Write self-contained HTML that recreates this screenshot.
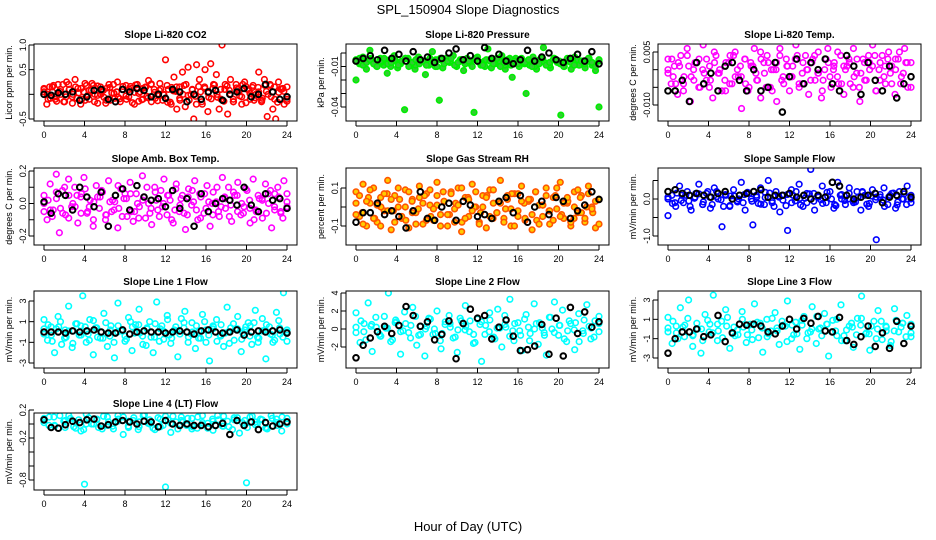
<!DOCTYPE html>
<html><head><meta charset="utf-8"><style>
body{margin:0;background:#fff;}
svg{display:block;font-family:"Liberation Sans",sans-serif;}
</style></head><body>
<svg id="c" width="936" height="540" viewBox="0 0 936 540">
<text x="468" y="14" text-anchor="middle" font-size="13">SPL_150904  Slope Diagnostics</text>
<text x="468" y="531" text-anchor="middle" font-size="13">Hour of Day (UTC)</text>
</svg>
<script>
const xTicks=[0,4,8,12,16,20,24];
// CO2
const co2Cloud=[0.1,-0.2,0.15,0.05,-0.1,0.2,0,-0.15,0.25,0.1,-0.05,0.3,0.12,-0.2,0.05,0.18,-0.1,0.22,0,-0.18,0.15,0.08,-0.12,0.2,0.03,-0.08,0.25,-0.15,0.1,0.18,-0.05,0.12,-0.2,0.2,0.05,-0.1,0.15,0.28,-0.15,0.1,0,0.22,-0.12,0.7,0.1,-0.2,0.35,-0.3,0.15,0.45,-0.25,0.55,0,-0.5,0.6,0.3,-0.2,0.5,-0.35,0.62,0.2,0.4,-0.3,1.0,0.1,-0.4,0.3,-0.15,0.2,0.05,-0.2,0.25,0.1,-0.1,0.18,0,0.45,-0.15,0.3,-0.45,0.2,-0.3,-0.5,0.25,0.1,-0.2,0.15];
const co2Core=[0.05,-0.1,0.15,-0.05,0.1,-0.15,0.2,0,-0.08,0.12,-0.12,0.08,0.18,-0.02,0.06,-0.18,0.14,0.02,-0.06,0.1,-0.1,0.16,0.04,-0.14,0.12,-0.04,0.2,-0.08,0.08,0,-0.16,0.14,0.06,-0.12,0.18,-0.02,0.1,-0.2,0.05,0.15,-0.06,0.12,0,-0.1,0.2,0.08,-0.15,0.1,-0.05,0.16,0.02,-0.12,0.14,-0.08,0.06,0.18,-0.1,0.04,0.12,-0.14];
const co2Dense=[0.12,0.0,-0.08,0.18,-0.14,0.06,0.2,-0.05,0.1,-0.18,0.15,0.03,-0.1,0.22,-0.02,0.08,-0.15,0.17,0.0,-0.06,0.13,-0.12,0.2,0.05,-0.09,0.16,-0.03,0.1,-0.17,0.19,0.02,-0.11,0.14,-0.07,0.21,0.04,-0.13,0.11,-0.01,0.18,-0.16,0.07,0.15,-0.08,0.0,0.2,-0.12,0.09,-0.04,0.16,-0.15,0.12,0.03,-0.09,0.19,-0.06,0.1,-0.14,0.17,0.01,-0.1,0.13,-0.03,0.2,-0.17,0.08,0.14,-0.07,0.05,-0.12,0.18,0.0,-0.05,0.15,-0.16,0.11,0.06,-0.1];
const co2Black=[0,-0.02,0.03,0,0.05,-0.12,-0.05,0.08,0.1,-0.1,-0.15,0.1,0.05,0.12,0.08,-0.05,0,-0.08,0.1,0.05,-0.15,0,-0.1,0.05,0.08,-0.12,0,0.05,0.12,-0.05,0,0.2,0.05,-0.1,-0.05];
// Pressure
const presCloud=[-0.02,-0.008,-0.003,-0.012,0.002,-0.006,-0.01,-0.004,-0.009,-0.015,-0.005,-0.002,-0.011,-0.007,-0.042,-0.004,-0.008,-0.012,-0.003,-0.006,-0.016,-0.009,0.001,-0.005,-0.035,-0.011,-0.004,-0.007,-0.002,-0.01,-0.006,-0.013,-0.004,-0.008,-0.044,-0.003,-0.009,-0.006,0.003,-0.011,-0.005,-0.008,-0.002,-0.012,-0.007,-0.018,-0.004,-0.01,-0.006,-0.03,-0.009,-0.003,-0.012,-0.005,0.004,-0.008,-0.011,-0.004,-0.007,-0.046,-0.01,-0.005,-0.012,-0.003,-0.008,-0.006,-0.011,-0.004,-0.009,-0.013,-0.04];
const presCore=[-0.005,-0.008,-0.006,-0.004,-0.009,-0.007,-0.005,-0.01,-0.006,-0.008,-0.004,-0.007,-0.009,-0.005,-0.006,-0.008,-0.01,-0.004,-0.007,-0.006,-0.009,-0.005,-0.008,-0.006,-0.004,-0.007,-0.01,-0.005,-0.008,-0.006,-0.009,-0.004,-0.007,-0.005,-0.008,-0.006,-0.01,-0.005,-0.007,-0.009,-0.004,-0.006,-0.008,-0.005,-0.007,-0.009,-0.006,-0.004,-0.008,-0.006];
const presDense=[-0.006,-0.004,-0.009,-0.007,-0.005,-0.008,-0.01,-0.006,-0.004,-0.008,-0.007,-0.005,-0.009,-0.006,-0.004,-0.01,-0.007,-0.005,-0.008,-0.006,-0.009,-0.004,-0.007,-0.01,-0.005,-0.008,-0.006,-0.004,-0.009,-0.007,-0.005,-0.008,-0.006,-0.01,-0.004,-0.007,-0.009,-0.005,-0.006,-0.008,-0.004,-0.01,-0.007,-0.005,-0.009,-0.006,-0.008,-0.004,-0.007,-0.005,-0.01,-0.006,-0.008,-0.004,-0.009,-0.007,-0.005,-0.006,-0.008,-0.01,-0.004,-0.007,-0.009,-0.005,-0.006,-0.008,-0.004,-0.007,-0.01,-0.005];
const presBlack=[-0.006,-0.004,-0.002,-0.005,0.002,-0.004,-0.001,-0.006,0.001,-0.005,-0.003,-0.007,-0.004,0,0.003,-0.005,-0.002,-0.006,0.004,-0.004,-0.001,-0.006,-0.008,-0.005,0.002,-0.006,-0.003,0,-0.005,-0.007,-0.004,-0.001,-0.006,0.001,-0.008];
// Li-820 Temp
const tempCloud=[0.003,-0.004,0.001,-0.007,0.004,-0.002,0.006,-0.009,0,0.002,-0.005,0.007,-0.003,0.001,-0.008,0.004,-0.001,0.009,-0.006,0.002,-0.004,0.005,-0.002,-0.011,0.003,-0.006,0.001,0.006,-0.003,-0.008,0.002,0.004,-0.005,0,-0.009,0.006,-0.002,0.003,-0.006,0.001,0.007,-0.004,-0.001,0.004,-0.007,0.002,-0.003,0.005,-0.008,0,0.006,-0.005,0.002,-0.002,0.004,-0.007,0.001,-0.004,0.006,-0.001,-0.009,0.003,-0.003,0.002,0.007,-0.006,0,0.004,-0.004,0.005,0.001,-0.007,0.003,-0.002,0.006,-0.005,0.002];
const tempCore=[0,-0.002,0.002,-0.004,0.001,-0.003,0.003,-0.001,-0.005,0.002,0,-0.003,0.004,-0.002,0.001,-0.004,0.002,-0.001,0.003,-0.005,0,0.002,-0.003,0.001,-0.002,0.004,-0.004,0,0.003,-0.001,-0.003,0.002,0,-0.004,0.001,0.003,-0.002,-0.005,0.002,0,0.004,-0.003,0.001,-0.001,0.003,-0.004,0.002,-0.002];
const tempDense=[-0.001,0.003,-0.004,0.001,-0.006,0.004,-0.002,0.002,-0.005,0.0,0.003,-0.003,0.005,-0.001,-0.006,0.002,-0.004,0.004,0.0,-0.002,0.003,-0.005,0.001,-0.003,0.005,-0.001,0.002,-0.006,0.0,0.004,-0.004,0.001,-0.002,0.003,-0.005,0.002,0.0,-0.003,0.004,-0.001,-0.006,0.003,-0.002,0.001,0.005,-0.004,0.0,0.002,-0.005,0.003,-0.001,-0.003,0.004,0.001,-0.006,0.002,-0.002,0.003,-0.004,0.0,0.005,-0.001,0.002,-0.005];
const tempBlack=[-0.006,-0.006,-0.003,-0.009,0.002,-0.004,-0.001,-0.006,0.001,0.002,-0.003,-0.006,0,-0.006,-0.005,0.002,-0.012,-0.002,0.003,-0.004,0.002,0,0.003,-0.004,-0.006,0.004,0.001,-0.007,0.002,-0.003,-0.006,0.001,-0.008,-0.004,-0.002];
// Amb box temp
const ambCloud=[0.05,-0.1,0.12,-0.04,0.18,-0.18,0.08,-0.07,0.15,-0.02,0.1,-0.12,0.04,0.16,-0.06,0.02,-0.14,0.11,-0.03,0.07,-0.1,0.14,-0.05,0.01,-0.15,0.09,0.03,-0.08,0.13,-0.11,0.06,-0.02,0.17,-0.09,0.0,-0.13,0.1,-0.04,0.08,0.15,-0.07,0.02,-0.12,0.12,-0.05,0.05,-0.16,0.09,-0.01,0.14,-0.1,0.04,-0.06,0.11,-0.14,0.07,0.01,-0.08,0.16,-0.03,0.1,-0.11,0.05,0.13,-0.07,-0.02,0.08,-0.12,0.15,-0.05,0.03,-0.09,0.12,0.0,-0.15,0.06,0.1,-0.06,0.14,-0.02];
const ambCore=[0,-0.04,0.03,-0.06,0.05,-0.02,0.06,-0.05,0.01,0.04,-0.07,0.02,-0.03,0.06,-0.05,0.0,0.04,-0.06,0.02,-0.02,0.05,-0.04,0.03,-0.07,0.01,0.06,-0.03,0.0,-0.05,0.04,-0.01,0.05,-0.06,0.02,-0.04,0.03,0.06,-0.02,-0.05,0.01];
const ambDense=[-0.05,0.02,-0.08,0.07,-0.03,0.1,-0.09,0.0,0.05,-0.06,0.09,-0.02,-0.1,0.04,0.08,-0.07,0.01,-0.04,0.11,-0.08,0.03,0.06,-0.05,-0.09,0.02,0.1,-0.03,0.07,-0.08,0.0,0.05,-0.1,0.09,-0.01,-0.06,0.04,0.08,-0.04,-0.09,0.06,0.01,-0.07,0.1,-0.02,0.03,-0.08,0.07,-0.05,0.0,0.09,-0.03,-0.1,0.05,0.02,-0.06,0.08,-0.04,0.04,-0.09,0.06];
const ambBlack=[0.01,-0.06,0.06,0.05,-0.04,0.1,0.04,-0.02,0.07,-0.14,0.05,0.09,-0.04,0.11,0.04,0.02,0.03,-0.02,0.08,-0.03,0.03,-0.14,0.06,-0.05,0.0,0.03,0.02,-0.01,0.1,-0.01,-0.05,0.06,0.02,0.03,-0.03];
// Gas stream RH
const rhCloud=[0.08,-0.05,0.12,-0.1,0.02,0.1,-0.08,0.05,-0.02,0.14,-0.12,0.06,0.0,-0.06,0.09,-0.11,0.04,-0.03,0.11,-0.09,0.07,0.01,-0.07,0.13,-0.04,0.03,-0.1,0.08,-0.01,0.1,-0.13,0.05,-0.05,0.12,0.0,-0.08,0.06,-0.11,0.09,0.02,-0.03,0.14,-0.06,0.04,-0.1,0.07,-0.02,0.11,-0.07,0.03,-0.12,0.08,0.01,-0.05,0.1,-0.09,0.05,-0.01,0.13,-0.06,0.02,-0.1,0.08,-0.03,0.06,-0.08,0.11,0.0,-0.11,0.04];
const rhCore=[0.02,-0.03,0.05,-0.06,0.0,0.07,-0.02,0.04,-0.07,0.03,-0.01,0.06,-0.05,0.01,0.08,-0.04,0.02,-0.08,0.05,0.0,-0.03,0.06,-0.06,0.03,-0.01,0.07,-0.05,0.02,0.04,-0.07,0.01,-0.02,0.06,-0.04,0.03,-0.06,0.05,0.0,-0.03,0.04];
const rhDense=[-0.04,0.06,-0.09,0.03,0.09,-0.06,0.01,-0.1,0.07,-0.02,0.04,-0.08,0.1,-0.05,0.0,0.08,-0.03,-0.09,0.05,0.02,-0.07,0.09,-0.01,0.06,-0.1,0.03,-0.04,0.07,-0.08,0.01,0.1,-0.06,0.04,-0.02,0.08,-0.09,0.0,0.05,-0.05,0.09,-0.03,0.02,-0.08,0.06,-0.01,-0.1,0.07,0.03,-0.06,0.04,-0.04,0.08,-0.09,0.01,0.06,-0.02,-0.07,0.1,-0.05,0.02,0.05,-0.08,0.0,0.09,-0.03,-0.06,0.07,-0.01,0.03,-0.09];
const rhBlack=[-0.08,-0.03,-0.03,0.02,-0.04,-0.02,-0.05,-0.11,-0.02,0.08,-0.06,-0.07,0.0,0.02,-0.07,0.03,0.01,-0.05,-0.04,-0.06,0.03,0.05,-0.03,0.06,-0.08,0.0,0.03,-0.04,0.05,0.03,-0.06,-0.02,0.01,0.08,0.04];
// Sample flow
const sfCloud=[-0.45,0.1,-0.2,0.35,-0.1,0.2,-0.3,0.05,0.4,-0.15,0.15,-0.25,0.3,0,-0.75,0.1,-0.2,0.25,-0.05,0.45,-0.3,0.15,-0.7,0.05,0.3,-0.15,0.5,-0.1,0.2,-0.35,0.1,-0.85,0.25,-0.05,0.4,-0.2,0.15,0.8,-0.3,0.05,0.35,-0.1,0.2,-0.25,0.45,0,-0.15,0.3,-0.05,0.2,-0.3,0.1,-0.2,0.25,-1.1,0.05,0.3,-0.15,0.15,-0.25,0.2,0,0.35,-0.1];
const sfCore=[0,-0.1,0.1,-0.05,0.15,-0.15,0.05,0.2,-0.2,0.08,-0.08,0.12,0,-0.12,0.18,-0.05,0.05,-0.18,0.1,0.02,-0.1,0.15,-0.02,0.08,-0.15,0.12,0,-0.08,0.18,-0.12,0.05,-0.03,0.1,-0.16,0.14,0];
const sfDense=[0.05,-0.12,0.16,-0.04,0.1,-0.2,0.02,0.14,-0.08,0.2,-0.15,0.06,-0.02,0.12,-0.18,0.08,0.0,-0.1,0.18,-0.06,0.1,-0.14,0.04,0.16,-0.2,0.08,-0.03,0.12,-0.1,0.2,-0.16,0.02,0.14,-0.06,0.06,-0.12,0.18,0.0,-0.18,0.1,-0.04,0.15,-0.1,0.04,0.2,-0.14,0.08,-0.02,0.12,-0.2,0.06,0.16,-0.08,0.0,-0.15,0.1];
const sfBlack=[0.2,0.25,0.15,0.1,0.15,0.1,0.05,0.15,0.2,0.0,0.1,0.15,0.2,0.25,0.05,0.1,0.1,0.15,0.05,0.1,0.0,0.1,0.05,0.45,0.35,0.1,0.0,0.05,0.1,0.15,-0.1,0.05,0.1,0.2,0.05];
// Line 1
const l1Cloud=[1.2,-0.8,0.5,-2.0,1.5,-1.2,0.2,2.5,-1.5,0.8,-0.3,3.5,-1.0,1.2,-2.2,0.4,-0.6,1.8,-1.4,0.6,-2.5,2.8,0.1,-0.9,1.4,-1.8,0.7,2.2,-0.4,-1.3,1.0,-2.0,2.9,0.3,-0.7,1.6,-1.1,0.2,-2.4,1.3,2.0,-0.5,0.9,-1.6,0.1,1.7,-1.0,-2.8,0.6,1.2,-0.3,-1.4,2.4,0.4,-0.8,1.5,-1.9,0.2,0.9,-1.2,2.1,-0.6,1.3,-2.6,0.5,-1.0,1.9,-0.2,3.8,-0.9];
const l1Core=[0.3,-0.3,0.5,-0.5,0.1,0.6,-0.2,0.4,-0.6,0.2,0,-0.4,0.5,-0.1,0.3,-0.5,0.6,-0.3,0.1,0.4,-0.2,-0.6,0.2,0.5,-0.4,0,0.3,-0.1,0.6,-0.5,0.2,-0.3,0.4,0];
const l1Dense=[-0.2,0.7,-0.9,0.3,1.0,-0.6,0.1,-1.1,0.8,-0.3,0.5,-0.8,1.1,-0.5,0.0,0.9,-0.4,-1.0,0.6,0.2,-0.7,1.0,-0.1,0.7,-1.2,0.4,-0.5,0.8,-0.9,0.1,1.2,-0.6,0.5,-0.2,0.9,-1.0,0.0,0.6,-0.6,1.0,-0.3,0.3,-0.9,0.7,-0.1,-1.1,0.8,0.3,-0.7,0.5,-0.4,0.9,-1.0,0.1,0.7,-0.2,-0.8,1.1,-0.5,0.2];
const l1Black=[0,0,0,-0.1,0.1,0,0.1,0.2,0,-0.1,-0.1,0.2,-0.2,0,0.1,0,0,-0.1,0,0.1,0,-0.2,0.1,0.2,0,-0.1,0,0.2,-0.3,0,0.1,0,0.1,0.2,-0.1];
// Line 2
const l2Cloud=[1.8,-1.5,0.6,2.9,-2.5,0.2,-0.8,1.4,4.0,-1.2,0.8,-2.8,1.9,-0.4,2.4,-1.8,0.3,-3.0,1.2,-0.6,2.0,-2.2,0.5,1.5,-1.0,-2.6,0.9,2.6,-0.3,-1.6,1.1,-3.6,0.4,1.8,-0.9,2.2,-2.0,0.2,3.3,-1.3,0.7,-2.4,1.6,-0.5,2.8,-1.7,0.1,-2.9,1.3,3.0,-0.7,2.1,-1.4,0.6,-2.3,1.7,-0.2,2.7,-1.1,0.9,1.4];
const l2Core=[0.2,-0.3,0.5,-0.6,0.1,0.7,-0.2,0.4,-0.7,0.3,0,-0.5,0.6,-0.1,0.3,-0.6,0.8,-0.3,0.1,0.5,-0.2,-0.7,0.2,0.6,-0.4,0,0.4,-0.2,0.7,-0.5,0.1,-0.3];
const l2Dense=[-0.4,0.9,-1.2,0.3,1.3,-0.8,0.1,-1.4,1.0,-0.3,0.6,-1.0,1.4,-0.6,0.0,1.1,-0.5,-1.3,0.8,0.2,-0.9,1.2,-0.1,0.9,-1.5,0.5,-0.6,1.0,-1.1,0.1,1.5,-0.8,0.6,-0.2,1.1,-1.3,0.0,0.7,-0.7,1.3,-0.4,0.4,-1.1,0.9,-0.1,-1.4,1.0,0.3,-0.9,0.6];
const l2Black=[-3.2,-1.8,-1.0,-0.3,0.3,-0.5,0.4,2.5,1.5,0.3,0.8,-1.2,-0.6,0.9,-3.3,0.6,2.2,1.2,1.5,-1.1,0.2,1.0,-0.8,-2.4,-2.3,-1.9,0.5,-2.8,1.2,-3.0,2.4,-0.5,1.9,0.2,0.8];
// Line 3
const l3Cloud=[1.2,-1.5,0.3,2.2,-0.8,3.0,-1.8,0.6,-2.5,1.5,-0.3,3.5,-1.2,0.8,2.0,-2.0,0.2,-0.6,1.8,-1.4,0.5,2.6,-0.9,-2.4,1.0,-0.2,1.7,-1.6,0.4,2.9,-1.0,0.7,-2.1,1.3,-0.4,2.3,-1.5,0.1,1.6,-2.8,0.9,-0.7,2.5,-1.2,0.3,-1.9,1.1,3.4,-0.5,-2.2,0.8,1.9,-1.1,0.2,-1.7,2.1,-0.3,0.6,1.4,-0.8];
const l3Core=[0.1,-0.4,0.4,-0.6,0,0.5,-0.2,0.3,-0.7,0.2,-0.1,0.6,-0.5,0.1,0.3,-0.6,0.4,-0.3,0,0.5,-0.2,-0.7,0.2,0.4,-0.5,0,0.3,-0.2,0.6,-0.4];
const l3Dense=[-0.3,0.8,-1.0,0.2,1.1,-0.7,0.0,-1.2,0.9,-0.4,0.5,-0.9,1.2,-0.5,-0.1,1.0,-0.6,-1.1,0.7,0.1,-0.8,1.1,-0.2,0.8,-1.3,0.4,-0.5,0.9,-1.0,0.0,1.3,-0.7,0.5,-0.3,1.0,-1.2,-0.1,0.6,-0.6,1.1,-0.4,0.3,-1.0,0.8,-0.2,-1.3,0.9,0.2,-0.8,0.5];
const l3Black=[-2.5,-1.0,-0.3,-0.3,0,-0.8,-0.6,1.4,-1.3,-0.4,0.5,0.4,0.5,0.3,-0.3,-0.5,0.3,1.0,0,1.1,0.6,1.3,-0.2,-0.3,1.2,-1.2,-1.6,-0.8,0.3,-1.8,-0.4,-2.0,0.8,-1.5,0.3];
// Line 4
const l4Cloud=[0.05,0.1,-0.02,0.12,-0.05,0.08,0.02,-0.1,0.14,0.0,0.06,-0.07,0.1,-0.03,0.12,-0.15,0.04,0.09,-0.04,0.13,0.0,-0.08,0.07,0.11,-0.12,0.03,0.1,-0.02,0.08,-0.06,0.12,0.01,-0.09,0.06,0.11,-0.04,0.09,-0.13,0.05,0.1,-0.01,0.07,-0.06,0.12,0.02,-0.1,0.08];
const l4Core=[0.02,-0.03,0.05,-0.06,0.0,0.07,-0.02,0.04,-0.05,0.03,0.06,-0.04,0.01,0.05,-0.07,0.02,0.04,-0.03,0.06,-0.01,0.03,-0.05,0.07,0.0];
const l4Dense=[0.08,-0.02,0.1,-0.06,0.04,0.12,-0.04,0.06,-0.08,0.09,0.0,-0.05,0.11,0.03,-0.07,0.07,0.1,-0.03,0.05,-0.08,0.12,0.01,-0.06,0.09,-0.02,0.06,0.11,-0.07,0.03,0.08,-0.04,0.1,-0.01,-0.06,0.07,0.12,-0.03,0.04,-0.08,0.09,0.02,-0.05,0.11,0.0,0.06,-0.07,0.08,-0.02,0.1,0.03];
const l4Black=[0.06,-0.05,-0.06,-0.01,0.04,0.02,0.06,0.07,-0.03,-0.01,0.03,0.05,0.03,0.0,0.04,0.03,-0.04,0.05,0.0,-0.02,0.0,-0.02,-0.02,-0.04,-0.02,0.01,-0.15,0.05,-0.02,0.03,-0.08,0.02,-0.03,0.0,0.03];
const l4OutHours=[4,12,20];
const l4OutVals=[-0.86,-0.9,-0.84];

const svg=document.getElementById('c');
const NS='http://www.w3.org/2000/svg';
function mk(tag,attrs,parent){const e=document.createElementNS(NS,tag);for(const k in attrs)e.setAttribute(k,attrs[k]);(parent||svg).appendChild(e);return e;}

const panels=[
 {name:'co2',title:'Slope Li-820 CO2',yl:'Licor ppm per min.',col:0,row:0,v1:1.0,p1:45,v2:-0.5,p2:119,ticks:[-0.5,0,0.5,1.0],labs:['-0.5','','0.5','1.0'],sets:[co2Cloud,co2Core,co2Dense],black:co2Black,color:'#ff0000'},
 {name:'pressure',title:'Slope Li-820 Pressure',yl:'kPa per min.',col:1,row:0,v1:0,p1:53,v2:-0.04,p2:107,ticks:[0,-0.01,-0.02,-0.03,-0.04],labs:['','-0.01','','','-0.04'],sets:[presCloud,presCore,presDense],black:presBlack,color:'#00ee00',fill:'#33cc33'},
 {name:'temp',title:'Slope Li-820 Temp.',yl:'degrees C per min.',col:2,row:0,v1:0.005,p1:52,v2:-0.01,p2:105,ticks:[0.005,0,-0.005,-0.01],labs:['0.005','','','-0.010'],sets:[tempCloud,tempCore,tempDense],black:tempBlack,color:'#ff00ff'},
 {name:'amb-box-temp',title:'Slope Amb. Box Temp.',yl:'degrees C per min.',col:0,row:1,v1:0.2,p1:171,v2:-0.2,p2:236,ticks:[0.2,0.1,0,-0.1,-0.2],labs:['0.2','','0.0','','-0.2'],sets:[ambCloud,ambCore,ambDense],black:ambBlack,color:'#ff00ff'},
 {name:'gas-rh',title:'Slope Gas Stream RH',yl:'percent per min.',col:1,row:1,v1:0.1,p1:188,v2:-0.1,p2:226,ticks:[0.1,0,-0.1],labs:['0.1','','-0.1'],sets:[rhCloud,rhCore,rhDense],black:rhBlack,color:'#ff5500',fill:'#ffcc00'},
 {name:'sample-flow',title:'Slope Sample Flow',yl:'mV/min per min.',col:2,row:1,v1:0,p1:199,v2:-1,p2:236,ticks:[0.5,0,-0.5,-1],labs:['','0.0','','-1.0'],sets:[sfCloud,sfCore,sfDense],black:sfBlack,color:'#0000ff'},
 {name:'line1-flow',title:'Slope Line 1 Flow',yl:'mV/min per min.',col:0,row:2,v1:3,p1:301,v2:-3,p2:363,ticks:[3,1,-1,-3],labs:['3','1','-1','-3'],sets:[l1Cloud,l1Core,l1Dense],black:l1Black,color:'#00ffff'},
 {name:'line2-flow',title:'Slope Line 2 Flow',yl:'mV/min per min.',col:1,row:2,v1:4,p1:293,v2:-2,p2:347,ticks:[4,2,0,-2],labs:['4','2','0','-2'],sets:[l2Cloud,l2Core,l2Dense],black:l2Black,color:'#00ffff'},
 {name:'line3-flow',title:'Slope Line 3 Flow',yl:'mV/min per min.',col:2,row:2,v1:3,p1:300,v2:-3,p2:358,ticks:[3,1,-1,-3],labs:['3','1','-1','-3'],sets:[l3Cloud,l3Core,l3Dense],black:l3Black,color:'#00ffff'},
 {name:'line4-flow',title:'Slope Line 4 (LT) Flow',yl:'mV/min per min.',col:0,row:3,v1:0.2,p1:410,v2:-0.8,p2:480,ticks:[0.2,0,-0.2,-0.4,-0.6,-0.8],labs:['0.2','','-0.2','','','-0.8'],sets:[l4Cloud,l4Core,l4Dense],black:l4Black,color:'#00ffff',outH:l4OutHours,outV:l4OutVals}
];
const colX=[34,346,658], rowTop=[44,168,291,413], BW=263, BH=77;

panels.forEach(p=>{
 const L=colX[p.col], T=rowTop[p.row];
 const g=mk('g',{});
 
 
 const xs=h=>L+10+h*(BW-20)/24;
 const ys=v=>p.p1+(v-p.v1)*(p.p2-p.p1)/(p.v2-p.v1);
 const t=mk('text',{x:L+BW/2,y:T-6,'text-anchor':'middle','font-size':'10','font-weight':'bold'},g);
 t.textContent=p.title;
 
 
 const yl=mk('text',{x:0,y:0,'text-anchor':'middle','font-size':'9',transform:`translate(${L-22},${T+BH/2}) rotate(-90)`},g);
 yl.textContent=p.yl;
 
 
 const clip='cl'+p.name;
 const cp=mk('clipPath',{id:clip},g); mk('rect',{x:L,y:T,width:BW,height:BH},cp);
 const pts=mk('g',{'clip-path':`url(#${clip})`},g);
 function drawSet(arr,stroke,fill,sw,nm){
  const n=arr.length;
  arr.forEach((v,i)=>{
   const h=i*24/(n-1);
   const c=mk('circle',{cx:xs(h),cy:ys(v),r:2.8,fill:fill||'none',stroke:stroke,'stroke-width':sw},pts);
   
   
  });
 }
 p.sets.forEach(s=>drawSet(s,p.color,p.fill,1.6,'colored-point'));
 if(p.outH){p.outH.forEach((h,i)=>{const c=mk('circle',{cx:xs(h),cy:ys(p.outV[i]),r:2.8,fill:'none',stroke:p.color,'stroke-width':1.6},pts);
  
  });}
 drawSet(p.black,'#000',null,2,'black-point');
 const box=mk('rect',{x:L,y:T,width:BW,height:BH,fill:'none',stroke:'#000','stroke-width':1},g);
 
 
 xTicks.forEach(h=>{
  mk('line',{x1:xs(h),x2:xs(h),y1:T+BH,y2:T+BH+5,stroke:'#000'},g);
  const tl=mk('text',{x:xs(h),y:T+BH+17,'text-anchor':'middle','font-size':'9'},g);
  tl.textContent=h;
  
  
 });
 mk('line',{x1:xs(0),x2:xs(24),y1:T+BH+5,y2:T+BH+5,stroke:'#000'},g);
 p.ticks.forEach((v,i)=>{
  const y=ys(v);
  mk('line',{x1:L,x2:L-5,y1:y,y2:y,stroke:'#000'},g);
  if(p.labs[i]){
   const tl=mk('text',{x:0,y:0,'text-anchor':'middle','font-size':'9',transform:`translate(${L-8},${y}) rotate(-90)`},g);
   tl.textContent=p.labs[i];
   
   
  }
 });
 mk('line',{x1:L-5,x2:L-5,y1:ys(p.ticks[0]),y2:ys(p.ticks[p.ticks.length-1]),stroke:'#000'},g);
});
</script>
</body></html>
